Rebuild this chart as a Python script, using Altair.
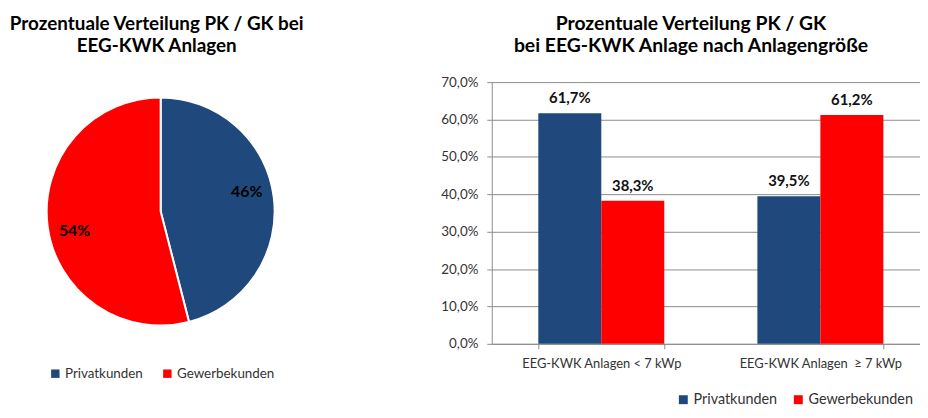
import altair as alt
import pandas as pd

# ---- data ----
kunden = ["Privatkunden", "Gewerbekunden"]
pie_values = [46, 54]
bar_groups = ["EEG-KWK Anlagen < 7 kWp", "EEG-KWK Anlagen\u00a0 \u2265 7 kWp"]
privat_values = [61.7, 39.5]
gewerbe_values = [38.3, 61.2]
y_ticks = [0, 10, 20, 30, 40, 50, 60, 70]
colors = ["#1F497D", "#FF0000"]

title_left = ["Prozentuale Verteilung PK / GK bei", "EEG-KWK Anlagen"]
title_right = ["Prozentuale Verteilung PK / GK", "bei EEG-KWK Anlage nach Anlagengröße"]

FONT = "Lato"
AXC = "#8c8c8c"
TXT = "#333333"

pie_df = pd.DataFrame({
    "Kunde": kunden,
    "v": pie_values,
    "ord": [0, 1],
    "lbl": [f"{v}%" for v in pie_values],
})

rows = []
for g, p, w in zip(bar_groups, privat_values, gewerbe_values):
    rows.append({"Gruppe": g, "Kunde": kunden[0], "v": p, "ord": 0})
    rows.append({"Gruppe": g, "Kunde": kunden[1], "v": w, "ord": 1})
bar_df = pd.DataFrame(rows)
bar_df["lbl"] = bar_df["v"].map(lambda x: f"{x:.1f}".replace(".", ",") + "%")

dummy = pd.DataFrame({"a": [0]})

# ---- pie (left) ----
PCX, PCY, PR = -334, 130.5, 115
pie_base = alt.Chart(pie_df).encode(
    theta=alt.Theta("v:Q", stack=True),
    order=alt.Order("ord:Q"),
    x=alt.value(PCX),
    y=alt.value(PCY),
)
pie = pie_base.mark_arc(radius=PR, stroke="white", strokeWidth=2).encode(
    color=alt.Color(
        "Kunde:N",
        scale=alt.Scale(domain=kunden, range=colors),
        legend=alt.Legend(
            orient="none", legendX=-447, legendY=287, direction="horizontal",
            title=None, symbolType="square", symbolSize=72, symbolStrokeWidth=0,
            labelFont=FONT, labelFontSize=13.5, labelColor=TXT, labelOffset=3,
            columnPadding=17, padding=0,
        ),
    )
)
pie_text = pie_base.mark_text(
    radius=89, thetaOffset=-0.096, font=FONT, fontSize=16, fontWeight="bold",
    color="#000000", baseline="middle", align="center",
).encode(text="lbl:N")

left_title = alt.Chart(dummy).mark_text(
    text=title_left, font=FONT, fontSize=19, fontWeight="bold", color="#000000",
    lineHeight=23, align="center", baseline="alphabetic",
).encode(x=alt.value(-338), y=alt.value(-53))

# ---- bars (right) ----
xscale = alt.Scale(domain=bar_groups, paddingInner=0.425, paddingOuter=0.2125)
yscale = alt.Scale(domain=[0, 70])

bar_base = alt.Chart(bar_df).encode(
    x=alt.X("Gruppe:N", scale=xscale, sort=bar_groups,
            axis=alt.Axis(title=None, tickBand="extent", labelAngle=0,
                          domainColor=AXC, tickColor=AXC, tickSize=5,
                          labelFont=FONT, labelFontSize=13, labelColor=TXT,
                          labelPadding=9)),
    xOffset=alt.XOffset("Kunde:N", scale=alt.Scale(domain=kunden)),
    y=alt.Y("v:Q", scale=yscale,
            axis=alt.Axis(title=None, values=y_ticks,
                          labelExpr="replace(format(datum.value, '.1f'), '.', ',') + '%'",
                          grid=True, gridColor=AXC, domainColor=AXC, tickColor=AXC,
                          tickSize=5, labelFont=FONT, labelFontSize=13.5,
                          labelColor=TXT, labelPadding=9)),
)
bars = bar_base.mark_bar().encode(
    color=alt.Color(
        "Kunde:N",
        scale=alt.Scale(domain=kunden, range=colors),
        legend=alt.Legend(
            orient="none", legendX=186, legendY=313, direction="horizontal",
            title=None, symbolType="square", symbolSize=81, symbolStrokeWidth=0,
            labelFont=FONT, labelFontSize=14.5, labelColor=TXT, labelOffset=3,
            columnPadding=14, padding=0,
        ),
    )
)
bar_text = bar_base.mark_text(
    font=FONT, fontSize=15, fontWeight="bold", color="#111111",
    dy=-10, baseline="alphabetic", align="center",
).encode(text="lbl:N")

right_title = alt.Chart(dummy).mark_text(
    text=title_right, font=FONT, fontSize=19.5, fontWeight="bold", color="#000000",
    lineHeight=23, align="center", baseline="alphabetic",
).encode(x=alt.value(201), y=alt.value(-53))

chart = alt.layer(
    pie, pie_text, left_title, bars, bar_text, right_title
).resolve_scale(
    color="independent"
).properties(
    width=442, height=264,
    autosize=alt.AutoSizeParams(type="none"),
    padding={"left": 488, "top": 73, "right": -10, "bottom": 65},
    background="white",
).configure_view(stroke=None)

chart.save("out.html", embed_options={"renderer": "svg", "actions": False})
